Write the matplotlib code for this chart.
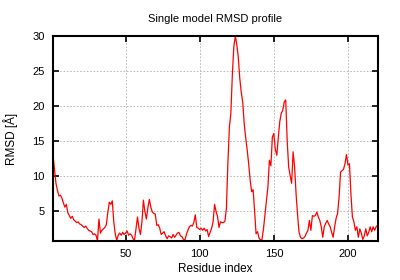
import matplotlib
matplotlib.use("Agg")
import matplotlib.pyplot as plt

# RMSD per residue (Å), residues 1..220
rmsd = [
    13.0, 11.0, 9.0, 8.0, 7.2, 7.3, 6.9, 6.2, 5.6, 6.0,
    4.8, 4.4, 4.0, 4.3, 3.8, 3.6, 3.4, 3.5, 3.2, 3.1,
    2.9, 2.7, 2.9, 2.6, 2.3, 2.2, 2.1, 1.7, 1.8, 1.6,
    0.8, 3.9, 1.9, 2.3, 2.5, 2.7, 3.1, 4.9, 6.3, 6.0,
    6.5, 3.5, 1.8, 0.85, 1.6, 1.9, 1.6, 2.0, 1.7, 1.9,
    2.2, 1.6, 1.8, 1.6, 1.1, 0.85, 2.5, 4.2, 2.6, 1.7,
    3.5, 6.6, 5.0, 3.9, 5.5, 6.7, 5.6, 4.9, 4.7, 4.6,
    3.0, 3.1, 2.6, 1.7, 1.9, 2.1, 1.5, 1.1, 1.5, 1.4,
    1.2, 1.7, 1.3, 1.6, 1.9, 2.0, 1.5, 1.4, 1.0, 0.9,
    1.7, 2.3, 2.8, 3.0, 2.9, 3.4, 4.5, 2.7, 2.6, 2.4,
    2.6, 2.3, 2.6, 2.2, 2.4, 1.4, 2.0, 2.6, 3.5, 6.0,
    5.0, 4.3, 2.7, 3.5, 3.4, 3.4, 3.6, 5.5, 12.0, 17.0,
    19.0, 24.5, 28.5, 30.0, 28.8, 27.0, 24.0, 22.0, 20.6, 17.5,
    15.5, 13.8, 11.8, 9.5, 7.8, 8.1, 5.1, 1.8, 2.1, 1.2,
    0.9, 1.0, 2.5, 4.5, 6.5, 8.5, 12.3, 11.5, 15.6, 16.1,
    13.8, 13.0, 15.5, 17.8, 19.0, 19.4, 20.6, 20.9, 15.1, 11.3,
    10.1, 9.0, 13.5, 11.3, 7.5, 4.5, 2.0, 1.3, 1.1, 1.2,
    1.4, 1.9, 2.3, 3.7, 2.3, 4.4, 4.3, 4.4, 4.9, 4.2,
    3.7, 2.8, 1.3, 2.8, 3.3, 3.7, 3.2, 2.8, 2.0, 1.3,
    2.8, 4.0, 4.7, 7.0, 10.6, 10.8, 11.0, 11.8, 13.1, 11.6,
    11.8, 7.5, 4.2, 3.5, 2.3, 2.8, 1.3, 2.5, 1.9, 1.0,
    1.5, 2.5, 1.5, 2.0, 2.8, 2.1, 2.8, 2.3, 2.8, 3.0,
]
residues = list(range(1, len(rmsd) + 1))

xticks = [50, 100, 150, 200]
yticks = [5, 10, 15, 20, 25, 30]

plt.rcParams['font.family'] = ['Liberation Sans', 'DejaVu Sans']
plt.rcParams['font.size'] = 8

fig = plt.figure(figsize=(4, 2.8), dpi=100)
ax = fig.add_axes([0.1325, 0.140, 0.8115, 0.731])

ax.plot(residues, rmsd, color='red', linewidth=0.9)

ax.set_xlim(1, len(rmsd))
ax.set_ylim(min(rmsd), max(rmsd))
ax.set_xticks(xticks)
ax.set_yticks(yticks)

ax.grid(True, color='#b0b0b0', linestyle=(0, (2, 2)), linewidth=0.6)
ax.tick_params(direction='in', top=True, right=True, length=4, width=1.2, pad=6)
for s in ax.spines.values():
    s.set_linewidth(1.5)

ax.set_title('Single model RMSD profile', fontsize=8, pad=10)
ax.set_xlabel('Residue index', fontsize=8.5, labelpad=3)
ax.set_ylabel('RMSD [Å]', fontsize=8.5, labelpad=10)

fig.savefig('out.png', dpi=100)
